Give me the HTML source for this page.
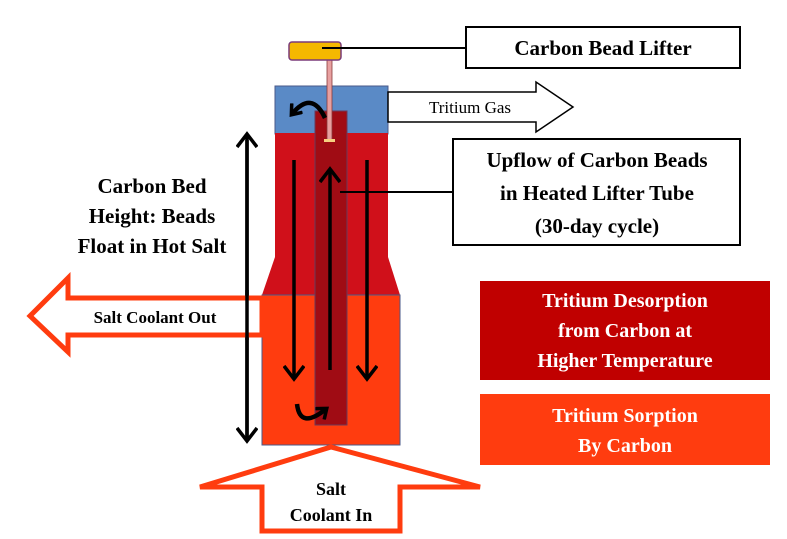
<!DOCTYPE html>
<html><head><style>
body{margin:0;background:#fff;width:787px;height:539px;overflow:hidden}
svg{display:block}
text{font-family:"Liberation Serif",serif;font-weight:bold}
</style></head><body>
<svg width="787" height="539" viewBox="0 0 787 539">
<defs>
<marker id="ah" markerWidth="20" markerHeight="22" refX="14" refY="11" orient="auto" markerUnits="userSpaceOnUse" viewBox="0 0 20 22"><path d="M2,1 L15,11 L2,21" fill="none" stroke="#000" stroke-width="3.5"/></marker>
<marker id="ahs" markerWidth="14" markerHeight="16" refX="9" refY="8" orient="auto" markerUnits="userSpaceOnUse" viewBox="0 0 14 16"><path d="M1,1 L10,8 L1,15" fill="none" stroke="#000" stroke-width="3.5"/></marker>
</defs>
<rect x="275" y="86" width="113" height="48" fill="#5a8ac6" stroke="#4a5a8a" stroke-width="1"/>
<rect x="275" y="133" width="113" height="124" fill="#d0101a"/>
<polygon points="275,257 388,257 400,295 262,295" fill="#d0101a"/>
<rect x="262" y="295" width="138" height="150" fill="#ff3c0f" stroke="#4a5a8a" stroke-width="1"/>
<rect x="315" y="111" width="32" height="314" fill="#a00c14" stroke="#6a3a5a" stroke-width="1"/>
<rect x="327" y="60" width="5" height="80" fill="#e8a0a0" stroke="#8a3a3a" stroke-width="0.8"/>
<rect x="324" y="139" width="11" height="3" fill="#f6d080"/>
<rect x="289" y="42" width="52" height="18" rx="3" fill="#f5b800" stroke="#7a3a7a" stroke-width="1.5"/>
<line x1="322" y1="48" x2="466" y2="48" stroke="#000" stroke-width="2"/>
<rect x="466" y="27" width="274" height="41" fill="#fff" stroke="#000" stroke-width="2"/>
<text x="603" y="55" font-size="21" text-anchor="middle">Carbon Bead Lifter</text>
<polygon points="388,92 536,92 536,82 573,107 536,132 536,122 388,122" fill="#fff" stroke="#000" stroke-width="1.5"/>
<text x="470" y="113" font-size="17" text-anchor="middle" style="font-weight:normal">Tritium Gas</text>
<line x1="340" y1="192" x2="453" y2="192" stroke="#000" stroke-width="2"/>
<rect x="453" y="139" width="287" height="106" fill="#fff" stroke="#000" stroke-width="2"/>
<text x="597" y="167" font-size="21" text-anchor="middle">Upflow of Carbon Beads</text>
<text x="597" y="200" font-size="21" text-anchor="middle">in Heated Lifter Tube</text>
<text x="597" y="233" font-size="21" text-anchor="middle">(30-day cycle)</text>
<line x1="294" y1="160" x2="294" y2="378" stroke="#000" stroke-width="3.5" marker-end="url(#ah)"/>
<line x1="367" y1="160" x2="367" y2="378" stroke="#000" stroke-width="3.5" marker-end="url(#ah)"/>
<line x1="330" y1="370" x2="330" y2="170" stroke="#000" stroke-width="3.5" marker-end="url(#ah)"/>
<path d="M325,118 Q312,90 292,114" fill="none" stroke="#000" stroke-width="4.5" marker-end="url(#ahs)"/>
<path d="M297,404 Q300,430 326,409" fill="none" stroke="#000" stroke-width="4.5" marker-end="url(#ahs)"/>
<line x1="247" y1="440" x2="247" y2="135" stroke="#000" stroke-width="3.5" marker-end="url(#ah)"/>
<line x1="247" y1="140" x2="247" y2="440" stroke="#000" stroke-width="3.5" marker-end="url(#ah)"/>
<text x="152" y="193" font-size="21" text-anchor="middle">Carbon Bed</text>
<text x="152" y="223" font-size="21" text-anchor="middle">Height: Beads</text>
<text x="152" y="253" font-size="21" text-anchor="middle">Float in Hot Salt</text>
<polygon points="262,298 68,298 68,278 30,316 68,352 68,335 262,335" fill="#fff" stroke="#ff3c0f" stroke-width="5"/>
<line x1="247" y1="290" x2="247" y2="340" stroke="#000" stroke-width="3.5"/>
<text x="155" y="323" font-size="17" text-anchor="middle">Salt Coolant Out</text>
<polygon points="331,447 480,487 400,487 400,531 262,531 262,487 200,487" fill="#fff" stroke="#ff3c0f" stroke-width="5"/>
<text x="331" y="495" font-size="18" text-anchor="middle">Salt</text>
<text x="331" y="521" font-size="18" text-anchor="middle">Coolant In</text>
<rect x="480" y="281" width="290" height="99" fill="#c00000"/>
<text x="625" y="307" font-size="20" fill="#fff" text-anchor="middle">Tritium Desorption</text>
<text x="625" y="337" font-size="20" fill="#fff" text-anchor="middle">from Carbon at</text>
<text x="625" y="367" font-size="20" fill="#fff" text-anchor="middle">Higher Temperature</text>
<rect x="480" y="394" width="290" height="71" fill="#ff3c0f"/>
<text x="625" y="422" font-size="20" fill="#fff" text-anchor="middle">Tritium Sorption</text>
<text x="625" y="452" font-size="20" fill="#fff" text-anchor="middle">By Carbon</text>
</svg>
</body></html>
